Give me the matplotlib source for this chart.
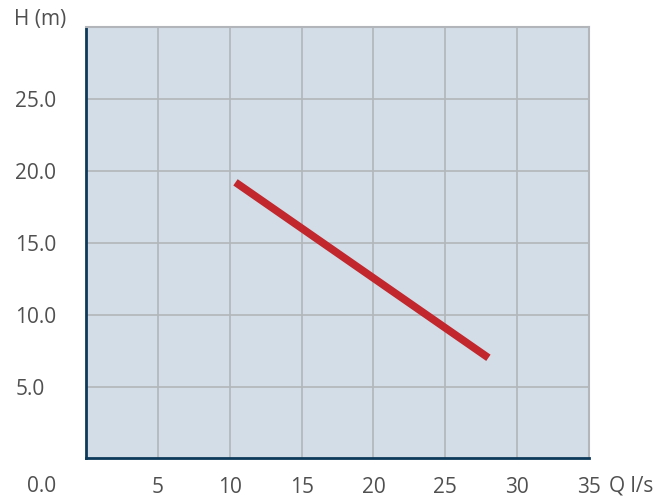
import matplotlib.pyplot as plt

# curva de la bomba: caudal (l/s) vs altura (m)
caudal = [10.4, 28.0]
altura = [19.2, 7.0]

xticks = [5, 10, 15, 20, 25, 30, 35]
yticks = [5, 10, 15, 20, 25]
ytick_labels = ['5.0', '10.0', '15.0', '20.0', '25.0']

plt.rcParams['font.family'] = ['Open Sans', 'DejaVu Sans']
gris = '#505050'
fs = 15

fig = plt.figure(figsize=(6.7, 4.97), dpi=100)
ax = fig.add_axes([0.1284, 0.0775, 0.7507, 0.8682])
ax.set_facecolor('#d3dde7')

ax.plot(caudal, altura, color='#c1272d', linewidth=5.5, solid_capstyle='butt', zorder=3)

ax.set_xlim(0, 35)
ax.set_ylim(0, 30)
ax.set_xticks(xticks)
ax.set_yticks(yticks)
ax.set_yticklabels(ytick_labels, ha='left')
ax.tick_params(axis='x', length=0, pad=13, labelsize=fs, labelcolor=gris)
ax.tick_params(axis='y', length=0, pad=51, labelsize=fs, labelcolor=gris)
ax.grid(True, color='#b2b6ba', linewidth=1.2)
ax.set_axisbelow(True)

for lado in ['top', 'right']:
    ax.spines[lado].set_color('#b2b6ba')
    ax.spines[lado].set_linewidth(1.5)
for lado in ['left', 'bottom']:
    ax.spines[lado].set_color('#0d3a5a')
    ax.spines[lado].set_linewidth(2)

fig.text(14 / 670, 1 - 20 / 497, 'H (m)', fontsize=fs, color=gris, va='center', ha='left')
fig.text(42 / 670, 1 - 486 / 497, '0.0', fontsize=fs, color=gris, va='center', ha='center')
fig.text(609 / 670, 1 - 486 / 497, 'Q l/s', fontsize=fs, color=gris, va='center', ha='left')

fig.savefig('out.png', dpi=100)
